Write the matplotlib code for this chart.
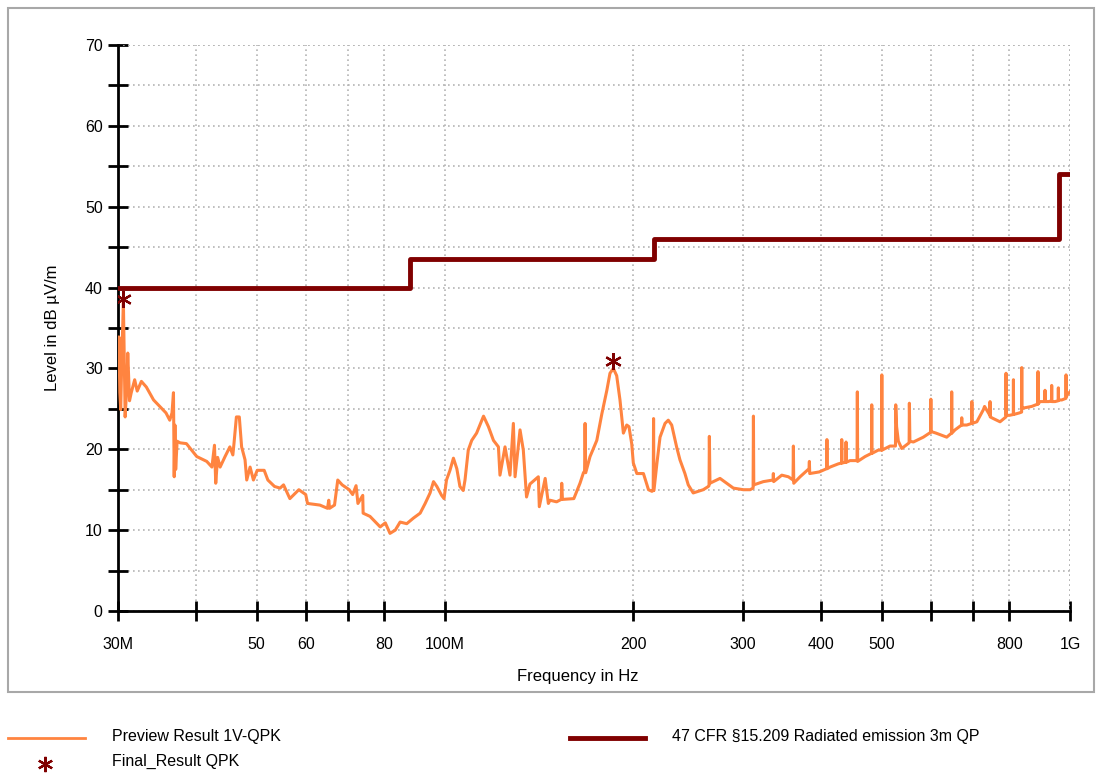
import numpy as np
import matplotlib
matplotlib.use("Agg")
import matplotlib.pyplot as plt
from matplotlib.lines import Line2D
from matplotlib.patches import Rectangle
from matplotlib.ticker import FixedLocator, NullFormatter

plt.rcParams["font.family"] = ["Liberation Sans", "DejaVu Sans"]

# preview scan (MHz, dBuV/m)
freq_mhz = [
    30.0, 30.1, 30.2, 30.3, 30.4, 30.6, 30.8, 31.0, 31.1, 31.3, 31.5, 31.9, 32.2, 32.7,
    33.3, 34.2, 35.2, 35.8, 36.3, 36.6, 36.8, 36.9, 37.0, 37.1, 37.3, 37.7, 38.6, 40.1,
    41.6, 42.4, 42.8, 43.0, 43.3, 43.7, 44.5, 45.3, 45.8, 46.0, 46.4, 46.9, 47.3, 47.9,
    48.2, 48.8, 49.4, 50.1, 51.4, 52.1, 53.4, 54.5, 55.2, 56.5, 58.4, 59.9,
    60.3, 63.1, 64.9, 65.2, 65.4, 66.6, 67.4, 68.5, 70.3, 71.2, 72.1, 72.6, 73.9, 74.0,
    75.9, 78.8, 80.3, 81.7, 83.3, 84.8, 86.9, 89.1, 91.3, 93.0, 94.7, 95.9, 97.1, 98.8,
    99.7, 100.6, 101.9, 103.2, 104.5, 105.7, 107.0, 107.7, 109.0, 110.4, 112.4, 115.3,
    117.4, 119.6, 121.8, 122.5, 124.8, 127.1, 128.7, 129.5, 131.9, 133.5, 135.1, 136.8,
    141.1, 141.6, 144.7, 146.4,
    147.3, 150.9, 153.5, 153.8, 154.2, 160.8, 164.5, 166.6, 167.3, 167.6, 168.0, 170.7,
    175.0, 178.3, 181.6, 183.7, 186.0, 188.3, 190.6, 193.0, 195.4, 197.0, 199.0, 200.2,
    202.8, 207.8, 211.7, 214.4, 215.4, 215.7, 216.0, 218.4, 220.9, 225.0, 227.7, 230.6,
    234.8, 237.7, 242.1, 245.1, 249.6, 259.0, 263.9, 264.6, 264.9, 265.5, 275.5, 282.4,
    289.4, 300.3, 307.8, 311.2, 311.6, 312.0, 323.2, 335.0, 335.3, 335.7, 345.9, 354.4,
    360.5, 361.0, 361.5, 370.0, 382.4, 382.9, 383.4, 397.1, 408.0, 408.5, 409.0, 413.2,
    426.0, 431.0, 431.4, 431.8, 437.8, 438.3, 438.8, 444.8, 456.4, 456.9, 457.4, 470.1,
    481.3, 481.8, 482.3, 493.6, 499.5, 500.0, 500.5, 515.4, 525.8, 526.3, 528.0, 531.4,
    538.1, 552.9, 553.4, 554.5, 561.6, 582.6, 595.6, 598.6, 599.0, 599.4, 610.5, 635.0,
    646.3, 646.8, 647.3, 654.7, 670.7, 671.2, 671.7, 683.7, 696.2, 696.7, 697.2, 709.6,
    726.8, 730.0, 744.4, 744.9, 745.4, 754.0, 772.8, 787.2, 789.7, 790.1, 790.5, 800.0,
    811.5, 811.9, 812.3, 830.0, 836.8, 837.2, 837.6, 842.2, 868.4, 888.5, 888.9, 889.3,
    895.5, 911.7, 912.1, 912.5, 925.0, 934.4, 934.8, 935.2, 946.3, 957.6, 958.0, 958.4,
    970.1, 985.2, 985.6, 986.0, 993.8, 1000.0,
]
level_dbuv = [
    29.8, 33.9, 27.0, 24.9, 30.0, 38.4, 24.0, 28.0, 31.9, 26.0, 27.0, 28.6, 27.2, 28.4,
    27.7, 26.1, 25.1, 24.5, 23.6, 24.5, 27.0, 16.6, 23.0, 17.5, 21.0, 20.8, 20.7, 19.1,
    18.5, 17.8, 20.5, 15.8, 19.0, 17.8, 19.1, 20.3, 19.3, 20.8, 24.0, 24.0, 20.3, 18.7,
    16.2, 17.8, 16.2, 17.4, 17.4, 16.2, 15.4, 15.2, 15.6, 13.9, 15.0, 14.4,
    13.3, 13.1, 12.7, 13.7, 12.7, 13.1, 16.2, 15.6, 15.0, 14.4, 15.5, 13.3, 14.3, 12.1,
    11.7, 10.4, 10.9, 9.6, 10.0, 11.0, 10.8, 11.5, 12.1, 13.3, 14.6, 16.0, 15.4, 14.3,
    13.9, 16.2, 17.4, 18.9, 17.6, 15.4, 14.9, 16.2, 19.9, 21.1, 22.0, 24.1,
    22.8, 21.1, 20.3, 16.8, 20.3, 16.8, 23.2, 16.6, 22.4, 19.9, 14.1, 15.7,
    16.6, 12.9, 16.4, 13.3,
    13.7, 13.5, 13.8, 15.8, 13.8, 13.9, 15.8, 17.1, 17.3, 23.2, 17.1, 19.1,
    21.1, 24.4, 27.3, 29.4, 30.0, 29.1, 26.1, 22.0, 23.0, 22.8, 20.7, 18.3,
    17.0, 17.0, 15.0, 14.8, 14.9, 23.8, 14.9, 18.3, 21.5, 23.2, 23.6, 23.0,
    20.3, 18.7, 17.0, 15.6, 14.6, 15.0, 15.4, 15.5, 21.6, 15.8, 16.4, 15.8,
    15.2, 15.0, 15.0, 15.2, 24.1, 15.6, 16.0, 16.2, 17.0, 16.0, 16.8, 16.6,
    16.2, 20.4, 15.8, 16.6, 17.6, 18.5, 17.0, 17.2, 17.6, 21.2, 17.6, 17.8,
    18.2, 18.3, 21.2, 18.3, 18.4, 20.9, 18.4, 18.6, 18.6, 27.1, 18.5, 19.1,
    19.5, 25.5, 19.5, 19.9, 19.9, 29.2, 19.9, 20.4, 20.4, 25.5, 22.8, 21.0,
    20.1, 20.8, 25.7, 21.0, 20.9, 21.5, 22.0, 22.1, 26.2, 22.2, 22.0, 21.5,
    22.0, 27.1, 22.0, 22.4, 23.0, 23.9, 23.0, 23.0, 23.2, 25.9, 23.2, 23.4,
    24.9, 25.3, 24.2, 25.9, 24.0, 23.8, 23.4, 23.9, 24.0, 29.4, 24.2, 24.2,
    24.3, 28.6, 24.3, 24.5, 24.6, 30.1, 25.1, 25.1, 25.3, 25.6, 29.6, 25.6,
    25.9, 25.9, 27.3, 25.9, 25.9, 26.0, 27.9, 25.9, 25.9, 26.0, 27.6, 26.1,
    26.1, 26.3, 29.2, 26.5, 26.9, 27.1,
]

# FCC 15.209 class B limit at 3 m
limit_freq = [30, 88, 88, 216, 216, 960, 960, 1000]
limit_level = [40.0, 40.0, 43.5, 43.5, 46.0, 46.0, 54.0, 54.0]

# final quasi-peak results
final_freq = [30.55, 185.5]
final_level = [38.6, 30.9]

x_ticks = [30, 40, 50, 60, 70, 80, 100, 200, 300, 400, 500, 600, 700, 800, 1000]
x_tick_labels = ["30M", "", "50", "60", "", "80", "100M", "200", "300", "400", "500",
                 "", "", "800", "1G"]

ORANGE = "#FF8440"
DARKRED = "#800000"

fig = plt.figure(figsize=(11.02, 7.73), dpi=100)
fig.patch.set_facecolor("white")

# outer grey frame
fig.add_artist(Rectangle((8 / 1102, 1 - 692 / 773), 1086 / 1102, 684 / 773,
                         transform=fig.transFigure, facecolor="none",
                         edgecolor="#a8a8a8", linewidth=1.5))

ax = fig.add_axes([118 / 1102, 1 - 611 / 773, 952 / 1102, 566 / 773])
ax.set_xscale("log")
ax.set_xlim(30, 1000)
ax.set_ylim(0, 70)

ax.xaxis.set_major_locator(FixedLocator(x_ticks))
ax.xaxis.set_minor_locator(FixedLocator([]))
ax.set_xticklabels(x_tick_labels)
ax.xaxis.set_minor_formatter(NullFormatter())
ax.set_yticks(np.arange(0, 71, 10))
ax.set_yticks(np.arange(5, 70, 10), minor=True)

for s in ["top", "right"]:
    ax.spines[s].set_visible(False)
for s in ["left", "bottom"]:
    ax.spines[s].set_linewidth(2)

ax.tick_params(axis="both", which="both", direction="inout", length=14, width=2,
               labelsize=11.5)
ax.tick_params(axis="x", pad=12)
ax.tick_params(axis="y", pad=4)

ax.grid(True, which="both", color="#b4b4b4", linestyle=(0, (1, 2)), linewidth=1.2)
ax.axhline(70, color="#b4b4b4", linestyle=(0, (1, 2)), linewidth=1.2)
ax.axvline(1000, color="#b4b4b4", linestyle=(0, (1, 2)), linewidth=1.2)

ax.plot(freq_mhz, level_dbuv, color=ORANGE, linewidth=2.2, zorder=3)
ax.plot(limit_freq, limit_level, color=DARKRED, linewidth=3.5, zorder=4)
ax.plot(final_freq, final_level, linestyle="none", marker=(6, 2, 0), markersize=12,
        markeredgewidth=1.6, color=DARKRED, zorder=5)

ax.set_ylabel("Level in dB µV/m", fontsize=12, labelpad=18)
fig.text(578 / 1102, 1 - 676 / 773, "Frequency in Hz", fontsize=12,
         ha="center", va="center")

# legend below the frame
fig.add_artist(Line2D([8 / 1102, 85 / 1102], [1 - 738 / 773] * 2,
                      transform=fig.transFigure, color=ORANGE, linewidth=2))
fig.text(112 / 1102, 1 - 736 / 773, "Preview Result 1V-QPK", fontsize=11.5, va="center")
fig.add_artist(Line2D([45 / 1102], [1 - 764 / 773], transform=fig.transFigure,
                      linestyle="none", marker=(6, 2, 0), markersize=11,
                      markeredgewidth=1.6, color=DARKRED))
fig.text(112 / 1102, 1 - 761 / 773, "Final_Result QPK", fontsize=11.5, va="center")
fig.add_artist(Line2D([570 / 1102, 645 / 1102], [1 - 738 / 773] * 2,
                      transform=fig.transFigure, color=DARKRED, linewidth=3.5))
fig.text(672 / 1102, 1 - 736 / 773, "47 CFR §15.209 Radiated emission 3m QP",
         fontsize=11.5, va="center")

fig.savefig("out.png", dpi=100)
